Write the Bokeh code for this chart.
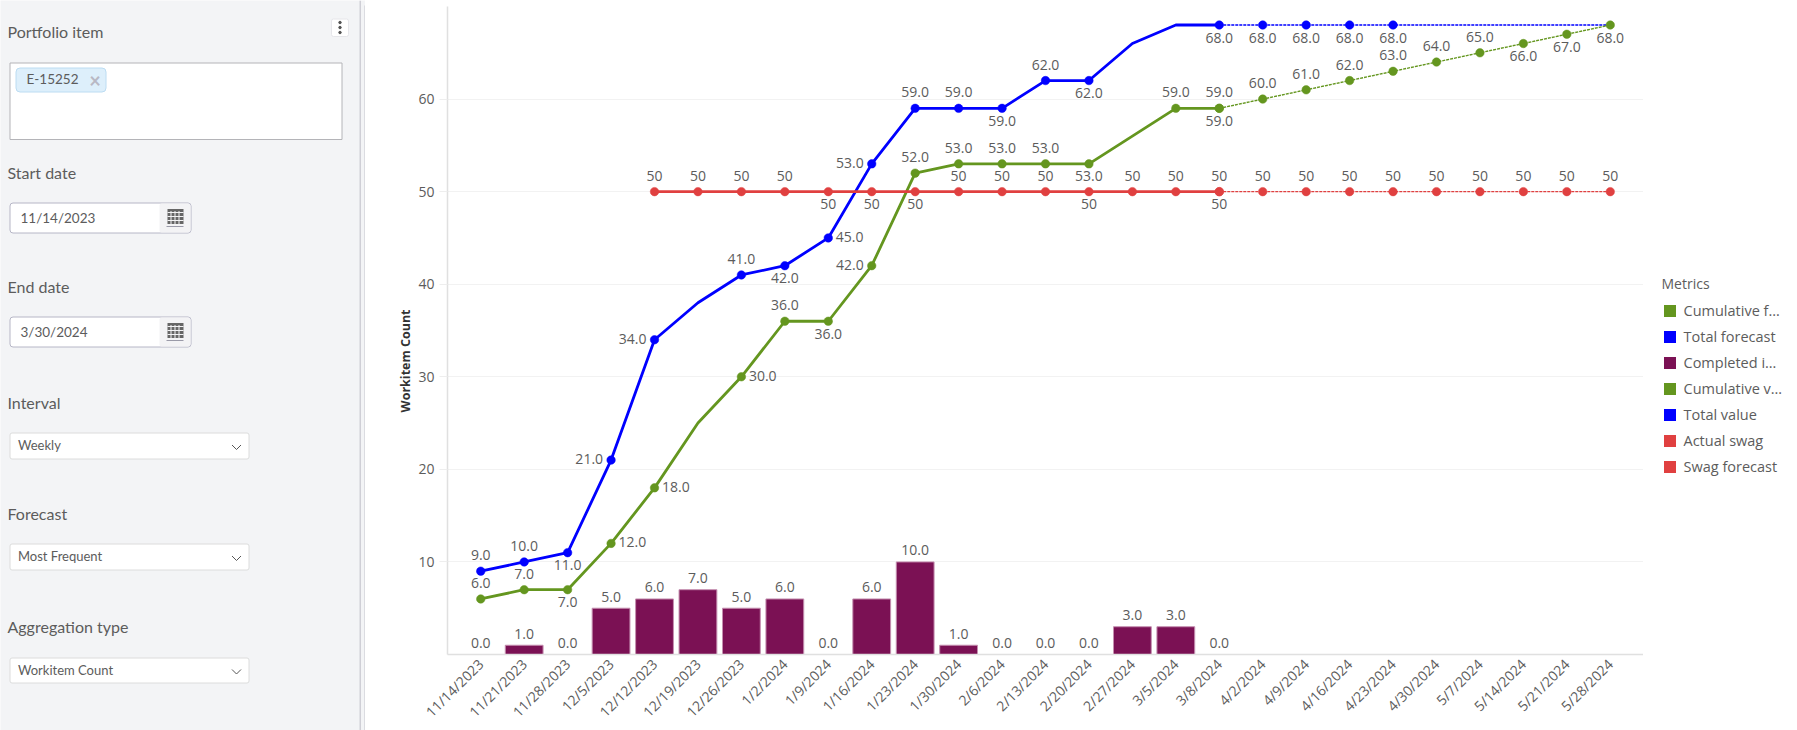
from bokeh.plotting import figure
from bokeh.layouts import row, column
from bokeh.models import (ColumnDataSource, FactorRange, Range1d, FixedTicker, Legend, LegendItem)
from bokeh.core.properties import value
from bokeh.embed import file_html
from bokeh.resources import INLINE
import math

# ---------- data ----------
dates = ["11/14/2023","11/21/2023","11/28/2023","12/5/2023","12/12/2023","12/19/2023","12/26/2023",
         "1/2/2024","1/9/2024","1/16/2024","1/23/2024","1/30/2024","2/6/2024","2/13/2024","2/20/2024",
         "2/27/2024","3/5/2024","3/8/2024","4/2/2024","4/9/2024","4/16/2024","4/23/2024","4/30/2024",
         "5/7/2024","5/14/2024","5/21/2024","5/28/2024"]
completed = [0,1,0,5,6,7,5,6,0,6,10,1,0,0,0,3,3,0]

total_value = [9,10,11,21,34,38,41,42,45,53,59,59,59,62,62,66,68,68]
total_value_pos = ["a","a","b","l","l","","a","b","r","l","a","a","b","a","b","","","b"]
total_forecast = [68,68,68,68,68,68,68,68,68,68]
total_forecast_pos = ["","b","b","b","b","","","","",""]

cum_value = [6,7,7,12,18,25,30,36,36,42,52,53,53,53,53,56,59,59]
cum_value_pos = ["a","a","b","r","r","","r","a","b","l","a","a","a","a","b","","a","b"]
cum_forecast = [59,60,61,62,63,64,65,66,67,68]
cum_forecast_pos = ["a","a","a","a","a","a","a","b","b","b"]

swag_actual = [50]*14
swag_actual_pos = ["a","a","a","a","b","b","b","a","a","a","b","a","a","b"]
swag_forecast = [50]*10
swag_forecast_pos = ["a"]*10

legend_labels = ["Cumulative f…","Total forecast","Completed i…","Cumulative v…","Total value","Actual swag","Swag forecast"]
GREEN, BLUE, PURPLE, RED = "#64961f", "#0000ff", "#7b1154", "#e04040"
legend_colors = [GREEN, BLUE, PURPLE, GREEN, BLUE, RED, RED]
y_ticks = [10,20,30,40,50,60]

# ---------- sidebar ----------
SIDE_BG = "#f3f4f6"
LATO = value("Lato")
s = figure(width=365, height=730, x_range=Range1d(0,365), y_range=Range1d(730,0),
           output_backend="svg", toolbar_location=None, min_border=0,
           background_fill_color=SIDE_BG, border_fill_color=SIDE_BG, outline_line_color=None)
s.axis.visible = False
s.grid.visible = False

def box(l,r,t,b,fill="#ffffff",line="#c0c0c8",radius=0,w=1):
    s.quad(left=[l],right=[r],top=[t],bottom=[b],fill_color=fill,line_color=line,line_width=w,border_radius=radius)
def txt(x,y,t,size,color="#5c5c5c",style="normal",align="left"):
    s.text(x=[x],y=[y],text=[t],text_font=LATO,text_font_size=size,text_color=color,
           text_baseline="middle",text_align=align,text_font_style=style)

s.quad(left=[359],right=[360.5],top=[0],bottom=[730],fill_color="#cfcfd6",line_color=None)
s.quad(left=[364],right=[365],top=[5],bottom=[730],fill_color="#c4c4cc",line_color=None)

for label,y in [("Portfolio item",31),("Start date",172),("End date",286),("Interval",402),
                ("Forecast",513),("Aggregation type",626)]:
    txt(7,y,label,"16px")

# kebab
box(331,348,18.5,36,fill="#ffffff",line="#e6e6ea",radius=2)
s.scatter(x=[339.5]*3,y=[22,27,32],size=2.5,color="#555555")

# multi select
box(9.5,341.5,62.5,139,line="#b4b4b8")
box(15.5,105.5,67.5,91.5,fill="#ddeffb",line="#bcdcf2",radius=4)
txt(26,78,"E-15252","13.5px")
txt(94.5,79,"×","20px",color="#b8b8c4",style="bold",align="center")

# date boxes
for y0,label in [(202.5,"11/14/2023"),(316.5,"3/30/2024")]:
    box(9.5,190.5,y0,y0+30,line="#b6b6c6",radius=3)
    s.quad(left=[159],right=[190],top=[y0+0.5],bottom=[y0+29.5],fill_color="#f3f3f5",line_color=None,border_radius=2)
    txt(20,y0+14.5,label,"13.5px")
    s.quad(left=[167],right=[183],top=[y0+6],bottom=[y0+21],fill_color="#666666",line_color=None)
    s.segment(x0=[167]*3,x1=[183]*3,y0=[y0+9.5,y0+13.5,y0+17.5],y1=[y0+9.5,y0+13.5,y0+17.5],line_color="#f3f3f5",line_width=1)
    s.segment(x0=[170.5,174.5,178.5],x1=[170.5,174.5,178.5],y0=[y0+8]*3,y1=[y0+21]*3,line_color="#f3f3f5",line_width=1)
    s.segment(x0=[166],x1=[183],y0=[y0+23.5],y1=[y0+23.5],line_color="#9a9aa8",line_width=1)

# dropdowns
for y0,y1,label in [(432.5,458.5,"Weekly"),(543.5,569.5,"Most Frequent"),(657.5,682.5,"Workitem Count")]:
    box(9.5,248.5,y0,y1,line="#dcdcdc",radius=2)
    txt(17.5,(y0+y1)/2-1,label,"13px")
    c = (y0+y1)/2+1
    s.line(x=[231.5,236,240.5],y=[c-2,c+2.5,c-2],line_color="#555555",line_width=1)

# ---------- top strip of the chart panel ----------
t = figure(width=1432, height=6, x_range=Range1d(0,1432), y_range=Range1d(6,0),
           output_backend="svg", toolbar_location=None, min_border=0,
           background_fill_color=SIDE_BG, border_fill_color=SIDE_BG, outline_line_color=None)
t.axis.visible = False
t.grid.visible = False
t.quad(left=[0],right=[1432],top=[5],bottom=[6],fill_color="#c4c4cc",line_color=None)

# ---------- y-axis title, placed low as in the reference ----------
CHART_H = 724
lab = figure(width=50, height=CHART_H, x_range=Range1d(0,50), y_range=Range1d(CHART_H,0),
             output_backend="svg", toolbar_location=None, min_border=0,
             background_fill_color="#ffffff", border_fill_color="#ffffff", outline_line_color=None)
lab.axis.visible = False
lab.grid.visible = False
lab.text(x=[40],y=[396],text=["Workitem Count"],angle=math.pi/2,text_align="center",text_baseline="middle",
         text_font=value("Open Sans"),text_font_size="12.5px",text_font_style="bold",text_color="#333333")

# ---------- chart ----------
OPEN = value("Open Sans")
TXT = "#5c5c5c"
p = figure(width=1228, height=CHART_H, x_range=FactorRange(factors=dates, range_padding=0.265, range_padding_units="absolute"),
           y_range=Range1d(0,70), output_backend="svg", toolbar_location=None,
           min_border_left=32, min_border_right=0, min_border_top=0, min_border_bottom=69,
           background_fill_color="#ffffff", border_fill_color="#ffffff", outline_line_color=None)
p.xgrid.visible = False
p.ygrid.grid_line_color = "#f2f2f2"
p.ygrid.ticker = FixedTicker(ticks=y_ticks)
p.yaxis.ticker = FixedTicker(ticks=y_ticks)
p.yaxis.major_label_text_font = "Open Sans"
p.yaxis.major_label_text_font_size = "14px"
p.yaxis.major_label_text_color = TXT
p.yaxis.major_label_standoff = 5
p.yaxis.major_tick_in = 0
p.yaxis.major_tick_out = 8
p.yaxis.major_tick_line_color = "#eeeeee"
p.yaxis.minor_tick_line_color = None
p.yaxis.axis_line_color = "#e0e0e0"
p.yaxis.axis_line_width = 1.5
p.xaxis.major_label_orientation = 0.785
p.xaxis.major_label_text_font = "Open Sans"
p.xaxis.major_label_text_font_size = "14px"
p.xaxis.major_label_text_color = TXT
p.xaxis.major_label_standoff = 1
p.xaxis.major_tick_line_color = None
p.xaxis.minor_tick_line_color = None
p.xaxis.axis_line_color = "#e0e0e0"
p.xaxis.axis_line_width = 1.5

STYLE = {"a":(0,-16,"center"),"b":(0,12.5,"center"),"l":(-8,-1,"right"),"r":(7.5,-1,"left")}

def labels(xs,vals,pos,fmt):
    rows = [(x,v,c) for x,v,c in zip(xs,vals,pos) if c]
    return dict(x=[r[0] for r in rows], y=[r[1] for r in rows],
                text=[fmt.format(r[1]) for r in rows],
                dx=[STYLE[r[2]][0] for r in rows], dy=[STYLE[r[2]][1] for r in rows],
                align=[STYLE[r[2]][2] for r in rows])

def series(xs,vals,pos,color,fmt,dashed=False):
    if dashed:
        p.line(x=xs,y=vals,line_color=color,line_width=1.4,line_dash="3 1")
    else:
        p.line(x=xs,y=vals,line_color=color,line_width=2.8,line_join="round")
    src = ColumnDataSource(labels(xs,vals,pos,fmt))
    p.scatter(x="x",y="y",source=src,size=8.5,fill_color=color,line_color=color,line_width=0.5)
    p.text(x="x",y="y",text="text",source=src,x_offset="dx",y_offset="dy",text_align="align",
           text_baseline="middle",text_font=OPEN,text_font_size="14px",text_color=TXT)

# bars
bar_dates = dates[:len(completed)]
p.vbar(x=bar_dates,top=completed,width=0.87,fill_color=PURPLE,line_color="#c58fb0",line_width=1)
bar_src = ColumnDataSource(dict(x=bar_dates,y=completed,text=[f"{v:.1f}" for v in completed]))
p.text(x="x",y="y",text="text",source=bar_src,y_offset=-11.5,text_align="center",text_baseline="middle",
       text_font=OPEN,text_font_size="14px",text_color=TXT)

series(dates[:18],total_value,total_value_pos,BLUE,"{:.1f}")
series(dates[17:],total_forecast,total_forecast_pos,BLUE,"{:.1f}",dashed=True)
series(dates[:18],cum_value,cum_value_pos,GREEN,"{:.1f}")
series(dates[17:],cum_forecast,cum_forecast_pos,GREEN,"{:.1f}",dashed=True)
series(dates[4:18],swag_actual,swag_actual_pos,RED,"{:.0f}")
series(dates[17:],swag_forecast,swag_forecast_pos,RED,"{:.0f}",dashed=True)

# ---------- legend, in its own figure to the right of the chart ----------
lf = figure(width=154, height=CHART_H, x_range=Range1d(0,154), y_range=Range1d(0,724),
            output_backend="svg", toolbar_location=None, min_border=0,
            background_fill_color="#ffffff", border_fill_color="#ffffff", outline_line_color=None)
lf.axis.visible = False
lf.grid.visible = False
items = []
for lab_text,col in zip(legend_labels,legend_colors):
    r = lf.quad(left=[float("nan")],right=[float("nan")],top=[float("nan")],bottom=[float("nan")],
                fill_color=col,line_color=None)
    items.append(LegendItem(label=value(lab_text),renderers=[r],index=0))
leg = Legend(items=items,title="Metrics",location=(18.5,178),orientation="vertical",
             glyph_width=15,glyph_height=15,label_standoff=7,spacing=7,padding=0,margin=0,
             border_line_color=None,background_fill_alpha=0,
             label_text_font="Open Sans",label_text_font_size="14.5px",label_text_color=TXT,
             title_text_font="Open Sans",title_text_font_size="14px",title_text_color=TXT,
             title_text_font_style="normal",title_standoff=8)
lf.add_layout(leg,"center")

page = row(s, column(t, row(lab, p, lf, spacing=0), spacing=0), spacing=0)
open("out.html","w").write(file_html(page, INLINE))
